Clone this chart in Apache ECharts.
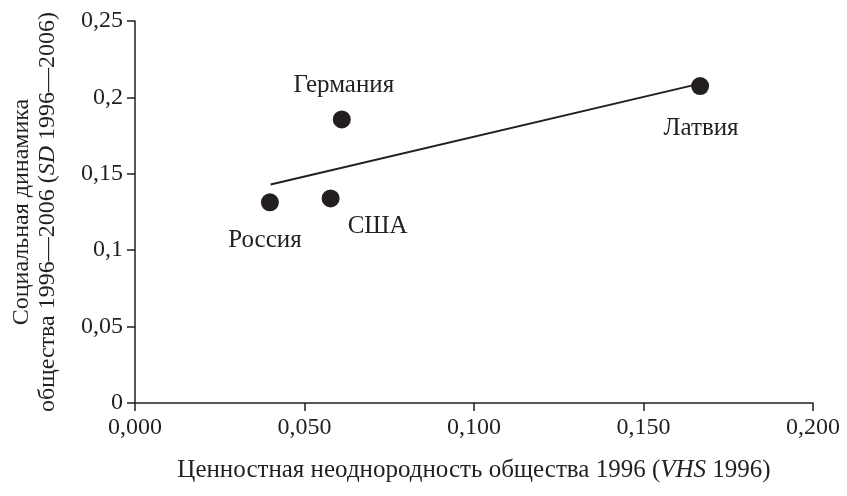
<!DOCTYPE html>
<html>
<head>
<meta charset="utf-8">
<script src="https://cdn.jsdelivr.net/npm/echarts@6/dist/echarts.min.js"></script>
<style>
  html, body { margin: 0; padding: 0; background: #fff; }
  #chart { width: 847px; height: 496px; }
</style>
</head>
<body>
<div id="chart"></div>
<script>
// data
const countries = ['Россия', 'США', 'Германия', 'Латвия'];
const vhs1996 = [0.0398, 0.0577, 0.061, 0.1667];
const sd19962006 = [0.1313, 0.1339, 0.1856, 0.2074];
const trendX = [0.040, 0.1667];
const trendY = [0.143, 0.209];
const xTicks = [0, 0.05, 0.1, 0.15, 0.2];
const yTicks = [0, 0.05, 0.1, 0.15, 0.2, 0.25];

const font = '"Liberation Serif", "DejaVu Serif", serif';
const ink = '#231f20';

// where each country's name sits relative to its dot
const labelOffsets = {
  'Россия': [-5, 38],
  'США': [47, 28],
  'Германия': [2, -34],
  'Латвия': [1, 42]
};

const chart = echarts.init(document.getElementById('chart'));

const points = countries.map((c, i) => ({
  name: c,
  value: [vhs1996[i], sd19962006[i]],
  label: {
    show: true,
    formatter: c,
    position: 'inside',
    offset: labelOffsets[c],
    color: ink,
    fontFamily: font,
    fontSize: 25
  }
}));

const option = {
  animation: false,
  grid: {
    left: 135,
    right: 34,
    top: 21,
    bottom: 93
  },
  xAxis: {
    type: 'value',
    min: xTicks[0],
    max: xTicks[xTicks.length - 1],
    interval: 0.05,
    splitLine: { show: false },
    axisLine: { show: true, lineStyle: { color: ink, width: 1.5 } },
    axisTick: { show: true, length: 8, lineStyle: { color: ink, width: 1.5 } },
    axisLabel: {
      color: ink,
      fontFamily: font,
      fontSize: 24,
      margin: 13,
      formatter: v => v.toFixed(3).replace('.', ',')
    },
    name: '{a|Ценностная неоднородность общества 1996 (}{i|VHS}{a| 1996)}',
    nameLocation: 'middle',
    nameGap: 55,
    nameTextStyle: {
      rich: {
        a: { fontFamily: font, fontSize: 25, color: ink },
        i: { fontFamily: font, fontSize: 25, color: ink, fontStyle: 'italic' }
      }
    }
  },
  yAxis: {
    type: 'value',
    min: yTicks[0],
    max: yTicks[yTicks.length - 1],
    interval: 0.05,
    splitLine: { show: false },
    axisLine: { show: true, lineStyle: { color: ink, width: 1.5 } },
    axisTick: { show: true, length: 8, lineStyle: { color: ink, width: 1.5 } },
    axisLabel: {
      color: ink,
      fontFamily: font,
      fontSize: 24,
      margin: 12,
      formatter: v => String(+v.toFixed(2)).replace('.', ',')
    },
    name: '{a|Социальная динамика}\n{a|общества 1996—2006 (}{i|SD}{a| 1996—2006)}',
    nameLocation: 'middle',
    nameRotate: 90,
    nameGap: 74,
    nameTextStyle: {
      lineHeight: 26,
      rich: {
        a: { fontFamily: font, fontSize: 24, color: ink, lineHeight: 26 },
        i: { fontFamily: font, fontSize: 24, color: ink, fontStyle: 'italic', lineHeight: 26 }
      }
    }
  },
  series: [
    {
      type: 'line',
      data: trendX.map((x, i) => [x, trendY[i]]),
      symbol: 'none',
      lineStyle: { color: ink, width: 2 },
      silent: true,
      z: 1
    },
    {
      type: 'scatter',
      data: points,
      symbolSize: 18,
      itemStyle: { color: ink, opacity: 1 },
      z: 2
    }
  ]
};

chart.setOption(option);
</script>
</body>
</html>
